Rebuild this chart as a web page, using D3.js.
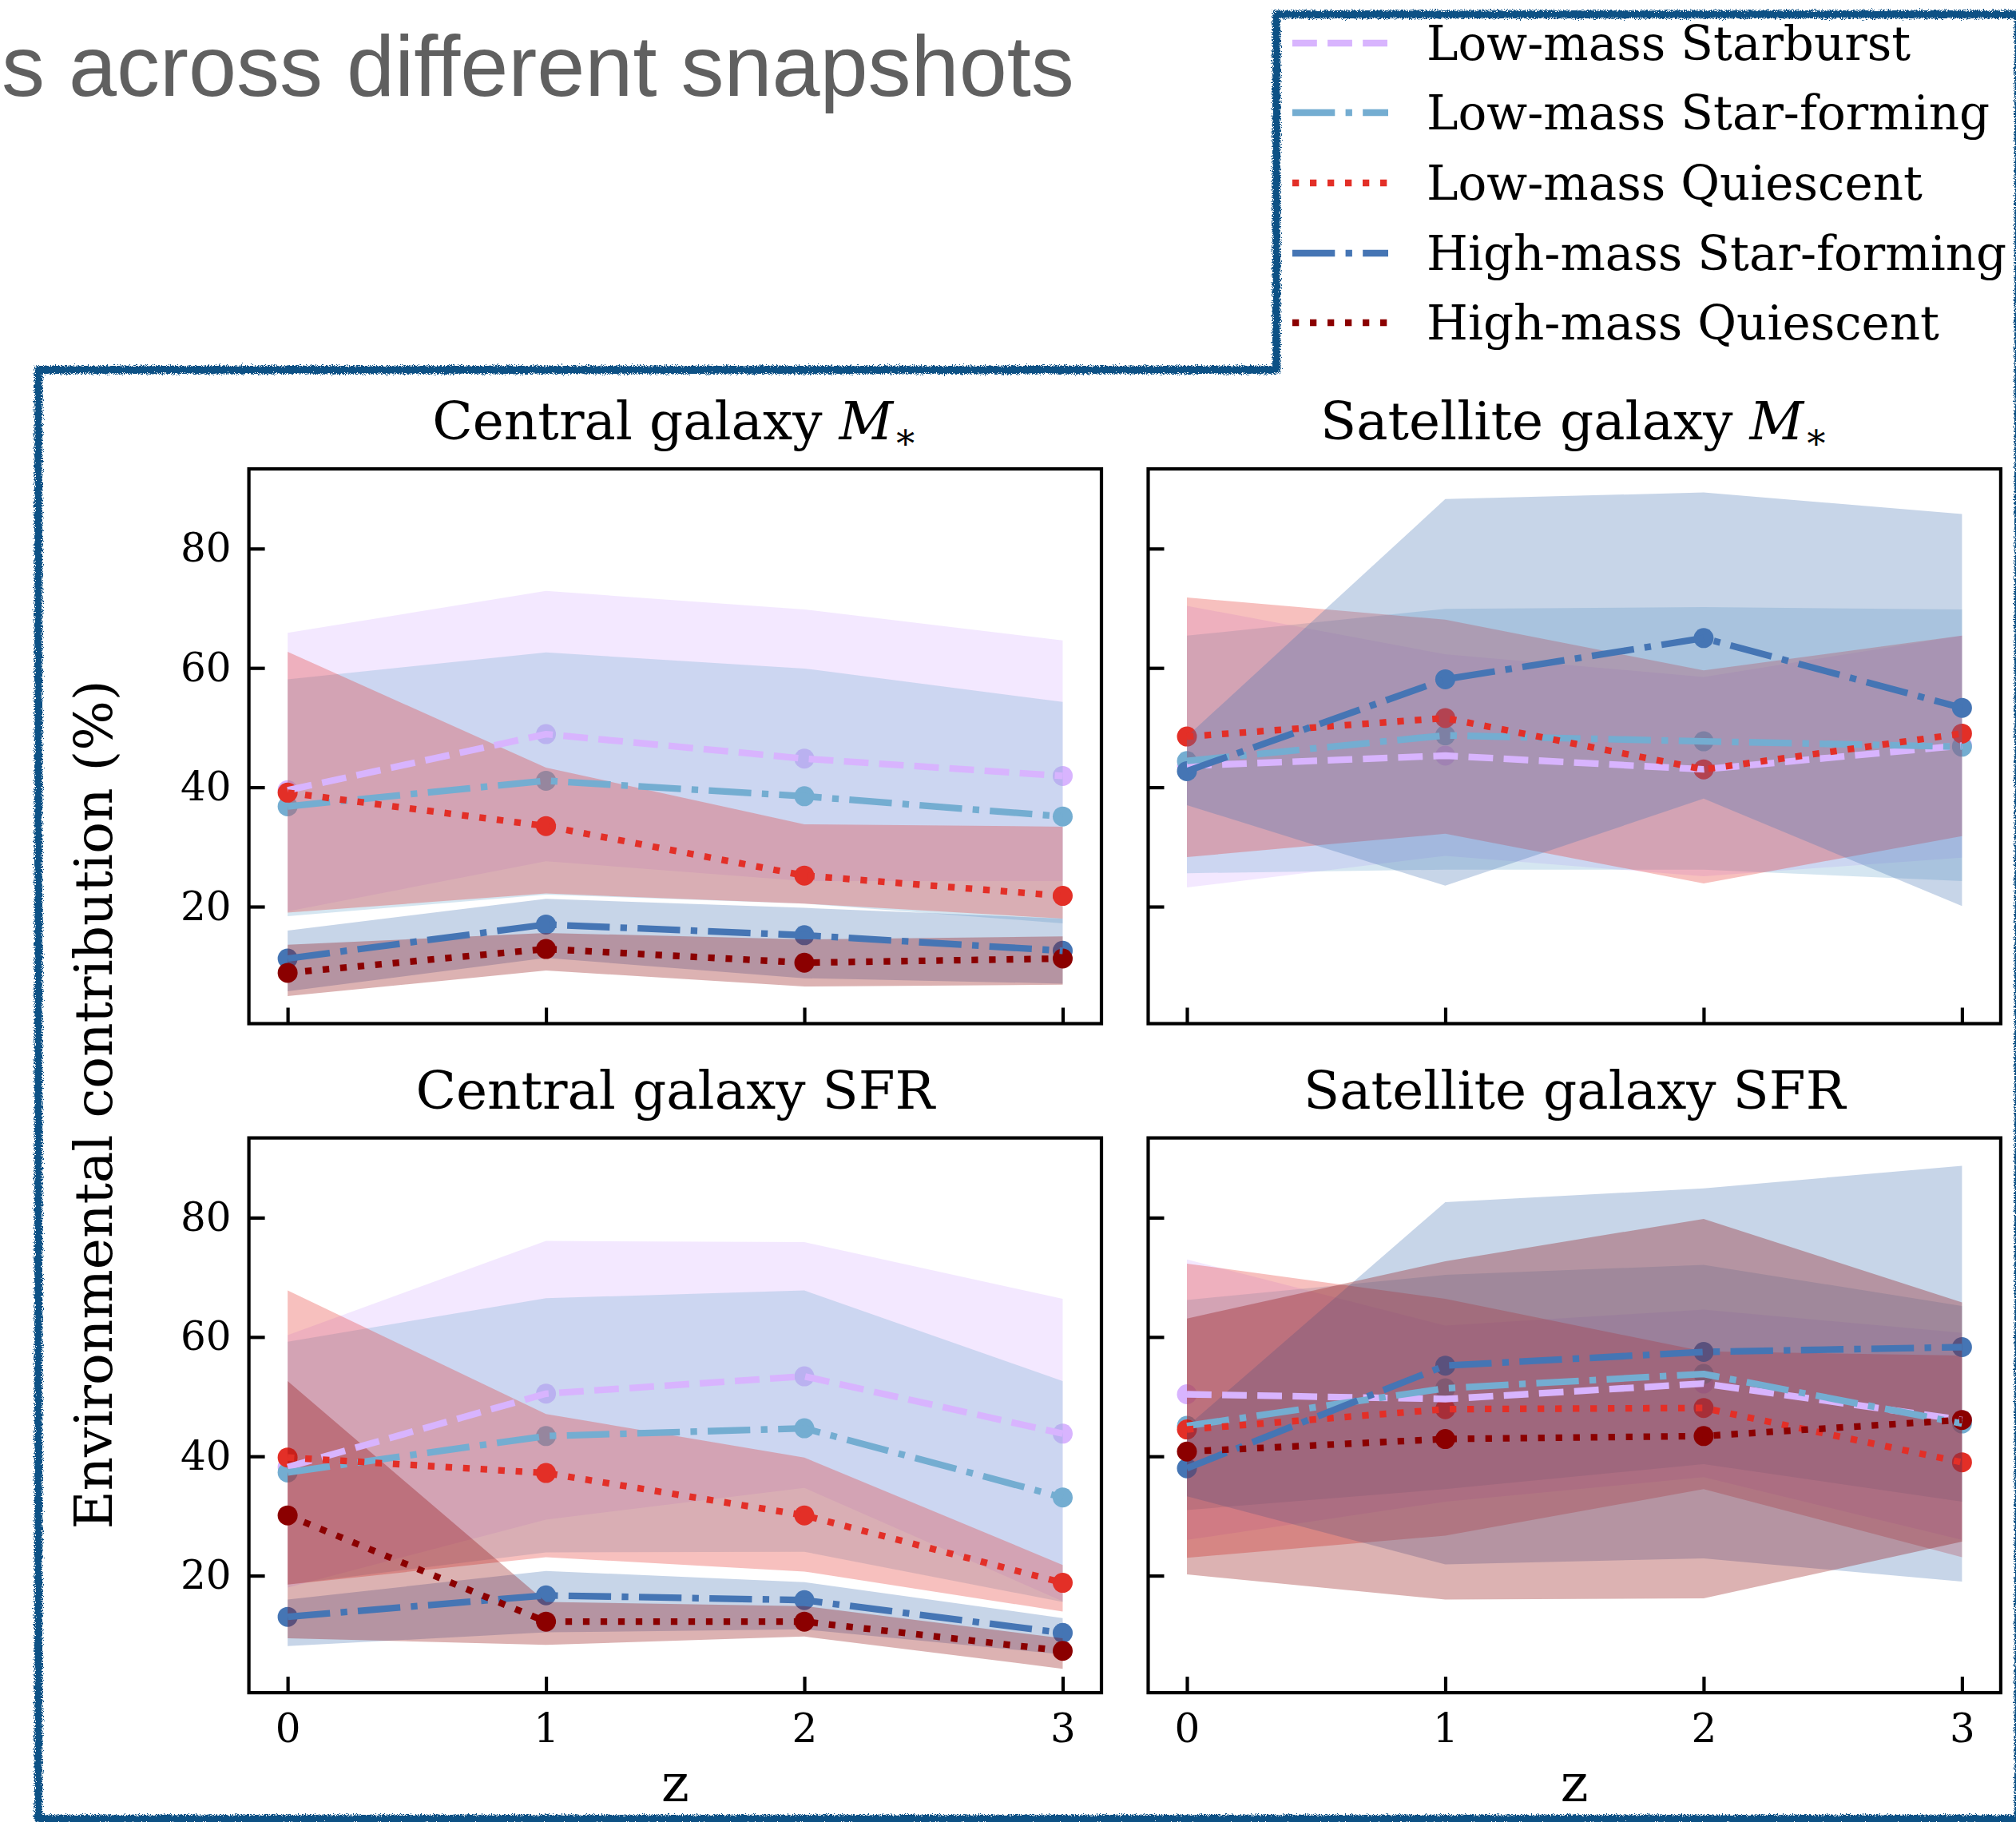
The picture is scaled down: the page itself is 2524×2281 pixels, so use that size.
<!DOCTYPE html>
<html>
<head>
<meta charset="utf-8">
<script src="https://cdn.jsdelivr.net/npm/d3@7"></script>
<style>
  html, body { margin: 0; padding: 0; background: #fff; }
  svg { display: block; }
</style>
</head>
<body>
<div id="chart"></div>
<script>
// redshift snapshots
const zValues = [0, 1, 2, 3];
const yTicks = [20, 40, 60, 80];

const seriesNames = [
    "Low-mass Starburst",
    "Low-mass Star-forming",
    "Low-mass Quiescent",
    "High-mass Star-forming",
    "High-mass Quiescent"
];

// median contribution (%) per series, one row per series in seriesNames order
const centralMassLine = [
    [39.5, 48.9, 44.8, 41.9],
    [36.8, 41.1, 38.5, 35.1],
    [39.1, 33.5, 25.2, 21.8],
    [11.3, 17.0, 15.2, 12.6],
    [8.9, 12.9, 10.6, 11.3]
];
const centralMassLow = [
    [19.2, 27.6, 24.3, 24.3],
    [18.4, 22.0, 20.5, 17.2],
    [19.0, 22.2, 20.5, 18.0],
    [5.8, 11.4, 8.0, 7.1],
    [5.0, 9.3, 6.6, 6.9]
];
const centralMassHigh = [
    [65.9, 72.9, 69.8, 64.6],
    [58.1, 62.6, 59.9, 54.3],
    [62.7, 43.3, 33.8, 33.4],
    [16.0, 21.3, 19.8, 18.0],
    [13.6, 15.6, 14.5, 15.0]
];

// satellite M* has no high-mass quiescent series
const satelliteMassLine = [
    [43.6, 45.3, 43.0, 47.0],
    [44.4, 48.7, 47.7, 46.8],
    [48.5, 51.6, 43.0, 49.0],
    [42.7, 58.1, 65.0, 53.3],
    null
];
const satelliteMassLow = [
    [23.2, 28.5, 25.1, 28.2],
    [25.6, 26.2, 26.2, 24.3],
    [28.3, 32.2, 23.9, 31.8],
    [37.0, 23.5, 38.1, 20.1],
    null
];
const satelliteMassHigh = [
    [70.4, 62.3, 58.5, 65.4],
    [65.4, 69.9, 70.2, 69.8],
    [71.8, 68.1, 59.6, 65.4],
    [48.5, 88.3, 89.4, 85.8],
    null
];

const centralSfrLine = [
    [38.2, 50.5, 53.4, 43.8],
    [37.3, 43.4, 44.7, 33.1],
    [39.8, 37.2, 30.1, 18.8],
    [13.1, 16.7, 15.9, 10.4],
    [30.1, 12.3, 12.3, 7.4]
];
const centralSfrLow = [
    [18.0, 29.4, 34.7, 15.7],
    [18.5, 23.9, 24.0, 15.6],
    [18.5, 23.1, 20.7, 14.0],
    [8.2, 10.5, 11.0, 6.8],
    [9.5, 8.4, 9.8, 4.4]
];
const centralSfrHigh = [
    [60.3, 76.1, 75.9, 66.4],
    [59.2, 66.5, 67.8, 52.6],
    [67.8, 47.1, 39.8, 21.8],
    [16.0, 20.8, 18.9, 12.9],
    [52.6, 15.6, 14.9, 9.5]
];

const satelliteSfrLine = [
    [50.4, 49.6, 52.2, 46.1],
    [45.1, 51.4, 53.8, 45.5],
    [44.5, 47.9, 48.1, 39.0],
    [38.0, 55.2, 57.5, 58.3],
    [40.8, 42.9, 43.4, 46.1]
];
const satelliteSfrLow = [
    [26.0, 32.4, 36.5, 26.0],
    [31.0, 34.5, 38.7, 32.4],
    [23.0, 26.7, 34.5, 23.1],
    [33.3, 21.9, 22.9, 19.0],
    [20.2, 16.0, 16.2, 25.7]
];
const satelliteSfrHigh = [
    [73.0, 61.9, 64.6, 60.7],
    [66.2, 70.4, 72.1, 65.2],
    [72.3, 66.4, 57.6, 56.9],
    [45.0, 82.6, 84.9, 88.7],
    [63.1, 72.7, 79.8, 65.8]
];

// styles
const colors = ["#d8b4fe", "#74add1", "#e32f27", "#4575b4", "#8b0000"];
const dashes = ["30.8,13.3", "53.3,13.3,8.3,13.3", "8.3,13.7", "53.3,13.3,8.3,13.3", "8.3,13.7"];

const width = 2524;
const height = 2281;
const serif = "'DejaVu Serif', serif";

const svg = d3.select("#chart")
    .append("svg")
    .attr("width", width)
    .attr("height", height);

// rough outline filter for the hand-drawn frame
const defs = svg.append("defs");
const rough = defs.append("filter")
    .attr("id", "rough")
    .attr("x", "-2%").attr("y", "-2%")
    .attr("width", "104%").attr("height", "104%");
rough.append("feTurbulence")
    .attr("type", "fractalNoise")
    .attr("baseFrequency", 1.1)
    .attr("numOctaves", 2)
    .attr("result", "noise");
rough.append("feDisplacementMap")
    .attr("in", "SourceGraphic")
    .attr("in2", "noise")
    .attr("scale", 9);

// figure title (starts at the left edge)
svg.append("text")
    .attr("x", 2)
    .attr("y", 120)
    .attr("font-family", "'Liberation Sans', Arial, sans-serif")
    .attr("font-size", 108)
    .attr("fill", "#606060")
    .text("s across different snapshots");

const panelW = 1067.4;
const panelH = 694.5;
const colX = [311.6, 1437.5];
const rowY = [587, 1424.6];

const x = d3.scaleLinear().domain([-0.15, 3.15]).range([0, panelW]);
const y = d3.scaleLinear().domain([0.39, 93.36]).range([panelH, 0]);

const panels = [
    { title: "Central galaxy ", math: true, line: centralMassLine, low: centralMassLow, high: centralMassHigh, col: 0, row: 0 },
    { title: "Satellite galaxy ", math: true, line: satelliteMassLine, low: satelliteMassLow, high: satelliteMassHigh, col: 1, row: 0 },
    { title: "Central galaxy SFR", math: false, line: centralSfrLine, low: centralSfrLow, high: centralSfrHigh, col: 0, row: 1 },
    { title: "Satellite galaxy SFR", math: false, line: satelliteSfrLine, low: satelliteSfrLow, high: satelliteSfrHigh, col: 1, row: 1 }
];

panels.forEach((p, pi) => {
    const g = svg.append("g")
        .attr("transform", `translate(${colX[p.col]},${rowY[p.row]})`);

    defs.append("clipPath")
        .attr("id", "clip" + pi)
        .append("rect")
        .attr("width", panelW)
        .attr("height", panelH);

    const plot = g.append("g").attr("clip-path", `url(#clip${pi})`);
    const bands = plot.append("g");
    const lines = plot.append("g");

    seriesNames.forEach((name, si) => {
        if (!p.line[si]) return;
        const area = d3.area()
            .x((d, i) => x(zValues[i]))
            .y0((d, i) => y(p.low[si][i]))
            .y1((d, i) => y(p.high[si][i]));
        bands.append("path")
            .attr("d", area(p.line[si]))
            .attr("fill", colors[si])
            .attr("fill-opacity", 0.3);

        // markers sit with the bands, so later bands tint them
        bands.selectAll(".pt" + si)
            .data(p.line[si])
            .enter().append("circle")
            .attr("class", "pt" + si)
            .attr("cx", (d, i) => x(zValues[i]))
            .attr("cy", d => y(d))
            .attr("r", 12.5)
            .attr("fill", colors[si]);

        const line = d3.line()
            .x((d, i) => x(zValues[i]))
            .y(d => y(d));
        lines.append("path")
            .attr("d", line(p.line[si]))
            .attr("fill", "none")
            .attr("stroke", colors[si])
            .attr("stroke-width", 8.3)
            .attr("stroke-dasharray", dashes[si])
            .attr("stroke-linejoin", "round");
    });

    // ticks pointing inward
    const xAxis = d3.axisBottom(x).tickValues(zValues).tickSize(-20).tickPadding(26)
        .tickFormat(p.row === 1 ? d3.format("d") : () => "");
    const yAxis = d3.axisLeft(y).tickValues(yTicks).tickSize(-20).tickPadding(22)
        .tickFormat(p.col === 0 ? d3.format("d") : () => "");

    const gx = g.append("g")
        .attr("transform", `translate(0,${panelH})`)
        .call(xAxis);
    const gy = g.append("g").call(yAxis);
    [gx, gy].forEach(a => {
        a.select(".domain").remove();
        a.selectAll(".tick line").attr("stroke", "#000").attr("stroke-width", 4.2);
        a.selectAll(".tick text")
            .attr("font-family", serif)
            .attr("font-size", 50)
            .attr("fill", "#000");
    });

    g.append("rect")
        .attr("width", panelW)
        .attr("height", panelH)
        .attr("fill", "none")
        .attr("stroke", "#000")
        .attr("stroke-width", 4.2);

    const t = g.append("text")
        .attr("x", panelW / 2)
        .attr("y", -37)
        .attr("text-anchor", "middle")
        .attr("font-family", serif)
        .attr("font-size", 66)
        .attr("fill", "#000");
    t.append("tspan").text(p.title);
    if (p.math) {
        t.append("tspan").attr("font-style", "italic").text("M");
        t.append("tspan").attr("font-size", 46).attr("dy", 12).text("\u2217");
    }

    if (p.row === 1) {
        g.append("text")
            .attr("x", panelW / 2)
            .attr("y", 2255 - rowY[1])
            .attr("text-anchor", "middle")
            .attr("font-family", serif)
            .attr("font-size", 66)
            .text("z");
    }
});

// shared y label
svg.append("text")
    .attr("transform", "translate(140,1383) rotate(-90)")
    .attr("text-anchor", "middle")
    .attr("font-family", serif)
    .attr("font-size", 66)
    .text("Environmental contribution (%)");

// legend
const legendY = [54, 141, 229, 317, 404];
const legend = svg.append("g");
seriesNames.forEach((name, i) => {
    legend.append("line")
        .attr("x1", 1618).attr("x2", 1738)
        .attr("y1", legendY[i]).attr("y2", legendY[i])
        .attr("stroke", colors[i])
        .attr("stroke-width", 8.3)
        .attr("stroke-dasharray", dashes[i]);
    legend.append("text")
        .attr("x", 1786)
        .attr("y", legendY[i] + 21)
        .attr("font-family", serif)
        .attr("font-size", 59.5)
        .text(name);
});

// hand-drawn frame around legend and panels
svg.append("path")
    .attr("d", "M1598,463 L1598,18 L2527,18 L2527,2277 L48,2277 L48,463 Z")
    .attr("fill", "none")
    .attr("stroke", "#0f5185")
    .attr("stroke-width", 10)
    .attr("stroke-linejoin", "round")
    .attr("filter", "url(#rough)");
</script>
</body>
</html>
